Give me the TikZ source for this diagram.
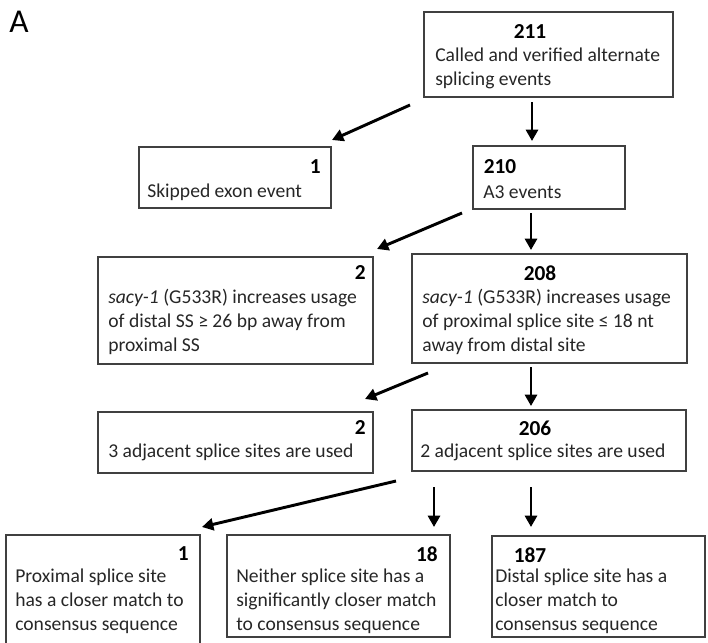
\documentclass[tikz,border=0pt]{standalone}
\usepackage{fontspec}
\setmainfont{Carlito}
\usetikzlibrary{positioning,arrows.meta,fit}
\tikzset{
  box/.style={draw=black!75,line width=0.8pt,inner sep=0pt},
  num/.style={font=\fontsize{16}{18}\selectfont\bfseries,inner sep=0pt,text=black},
  txt/.style={font=\fontsize{14.7}{18}\selectfont,inner sep=0pt,align=left,text=black!85},
  arr/.style={-{Triangle[length=8.5pt,width=9pt]},line width=2.2pt},
}
\begin{document}
\begin{tikzpicture}[x=0.75pt,y=-0.75pt]
  \useasboundingbox (0,0) rectangle (708,643);
  \node[font=\fontsize{25}{28}\selectfont,inner sep=0pt] (lblA) at (19,22) {A};
  % boxes, top to bottom
  \node[box,fit={(424,12) (673,97)}] (b211) {};
  \node[box,fit={(139,147) (331,208)}] (b1) {};
  \node[box,fit={(473,146) (625,209)}] (b210) {};
  \node[box,fit={(98,257) (373,364)}] (b2a) {};
  \node[box,fit={(412,254) (687,363)}] (b208) {};
  \node[box,fit={(98,412) (373,473)}] (b2b) {};
  \node[box,fit={(412,410) (686,471)}] (b206) {};
  \node[box,fit={(6,535) (200,660)}] (b1p) {};
  \node[box,fit={(227,535) (450,637)}] (b18) {};
  \node[box,fit={(492,536) (705,637)}] (b187) {};
  % counts and labels
  \node[num] (n211) at (530,32) {211};
  \node[txt,anchor=west] (t211) at (435,68) {Called and verified alternate\\splicing events};
  \node[num,anchor=east] (n1) at (321,167) {1};
  \node[txt,anchor=west] (t1) at (147,192) {Skipped exon event};
  \node[num] (n210) at (500,167) {210};
  \node[txt,anchor=west] (t210) at (483,192) {A3 events};
  \node[num,anchor=east] (n2a) at (366,273) {2};
  \node[txt,anchor=west] (t2a) at (108,322) {\textit{sacy-1} (G533R) increases usage\\of distal SS ≥ 26 bp away from\\proximal SS};
  \node[num] (n208) at (540,273) {208};
  \node[txt,anchor=west] (t208) at (422,322) {\textit{sacy-1} (G533R) increases usage\\of proximal splice site ≤ 18 nt\\away from distal site};
  \node[num,anchor=east] (n2b) at (366,428) {2};
  \node[txt,anchor=west] (t2b) at (108,452) {3 adjacent splice sites are used};
  \node[num] (n206) at (535,428) {206};
  \node[txt,anchor=west] (t206) at (420,452) {2 adjacent splice sites are used};
  \node[num,anchor=east] (n1p) at (189,554) {1};
  \node[txt,anchor=west] (t1p) at (15,601) {Proximal splice site\\has a closer match to\\consensus sequence};
  \node[num,anchor=east] (n18) at (438,554) {18};
  \node[txt,anchor=west] (t18) at (236,601) {Neither splice site has a\\significantly closer match\\to consensus sequence};
  \node[num] (n187) at (530,555) {187};
  \node[txt,anchor=west] (t187) at (495,601) {Distal splice site has a\\closer match to\\consensus sequence};
  % arrow ends
  \coordinate (a1s) at (410,105); \coordinate (a1e) at (332,140);
  \coordinate (a2s) at (532,102); \coordinate (a2e) at (532,141);
  \coordinate (a3s) at (462,213); \coordinate (a3e) at (377,249);
  \coordinate (a4s) at (531,213); \coordinate (a4e) at (531,250);
  \coordinate (a5s) at (428,373); \coordinate (a5e) at (365,399);
  \coordinate (a6s) at (531,367); \coordinate (a6e) at (531,406);
  \coordinate (a7s) at (396,481); \coordinate (a7e) at (202,527);
  \coordinate (a8s) at (434,487); \coordinate (a8e) at (434,527);
  \coordinate (a9s) at (531,487); \coordinate (a9e) at (531,527);
  \foreach \i in {1,...,9}
    \draw[arr] (a\i s) -- (a\i e);
\end{tikzpicture}
\end{document}
